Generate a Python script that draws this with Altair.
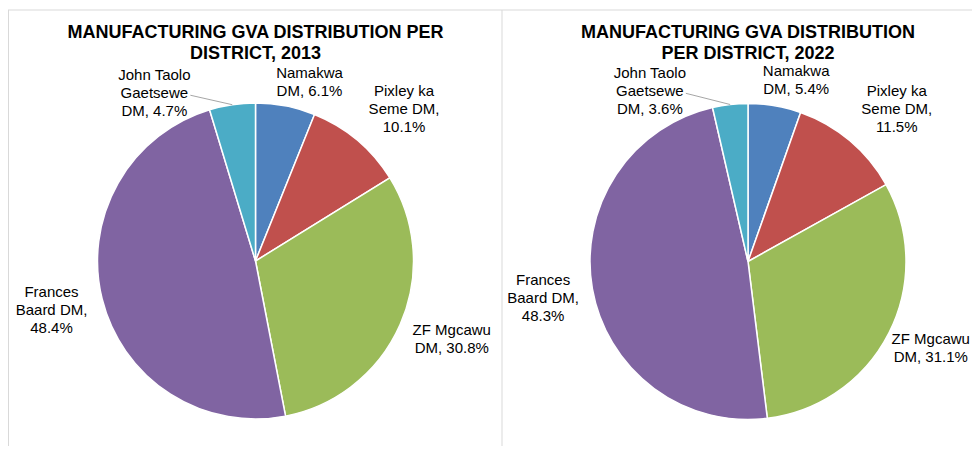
import math
import altair as alt
import pandas as pd

# ---------------- data ----------------
districts = ["Namakwa DM", "Pixley ka Seme DM", "ZF Mgcawu DM",
             "Frances Baard DM", "John Taolo Gaetsewe DM"]
label_templates = ["Namakwa\nDM, {}%", "Pixley ka\nSeme DM,\n{}%", "ZF Mgcawu\nDM, {}%",
                   "Frances\nBaard DM,\n{}%", "John Taolo\nGaetsewe\nDM, {}%"]
share_2013 = [6.1, 10.1, 30.8, 48.4, 4.7]
share_2022 = [5.4, 11.5, 31.1, 48.3, 3.6]
years = ["2013", "2022"]
titles = ["MANUFACTURING GVA DISTRIBUTION PER\nDISTRICT, 2013",
          "MANUFACTURING GVA DISTRIBUTION\nPER DISTRICT, 2022"]
colors = ["#4F81BD", "#C0504D", "#9BBB59", "#8064A2", "#4BACC6"]

# ---------------- layout ----------------
W, H = 964, 438
FONT = "Liberation Sans"
PIE_CENTERS = {"2013": (247.5, 253.0), "2022": (740.0, 253.5)}
PIE_R = 158
LABEL_R = 205
LABEL_NUDGE = {"2013": [(15, 22), (16.5, 4.5), (8.5, -5), (-5, -0.5), (-71, 34)],
               "2022": [(13.5, 20.5), (16.5, 4), (0, -6.5), (-3, 0), (-75, 32.5)]}
LEADER_FROM = (36, 3)   # offset from label centre where the leader starts
LEADER_FOR = 4          # index of the district whose label has a leader line
LABEL_SIZE, LABEL_LH = 15, 18
TITLE_SIZE, TITLE_LH = 18, 21.7
TITLE_TOP = 15.7
BORDER = "#d9d9d9"

series = {"2013": share_2013, "2022": share_2022}

label_rows, leader_rows, title_rows = [], [], []
for yi, yr in enumerate(years):
    vals = series[yr]
    total = sum(vals)
    cx, cy = PIE_CENTERS[yr]
    start = 0.0
    for i, v in enumerate(vals):
        mid = (start + v / 2) / total * 2 * math.pi
        start += v
        dx, dy = LABEL_NUDGE[yr][i]
        lx = cx + LABEL_R * math.sin(mid) + dx
        lyc = cy - LABEL_R * math.cos(mid) + dy
        text = label_templates[i].format(v)
        n = text.count("\n") + 1
        ytop = lyc - (n - 1) / 2 * LABEL_LH - 0.43 * LABEL_SIZE
        label_rows.append({"x": lx, "y": ytop, "text": text})
        if i == LEADER_FOR:
            leader_rows.append({"x": lx + LEADER_FROM[0], "y": lyc + LEADER_FROM[1],
                                "x2": cx + PIE_R * math.sin(mid),
                                "y2": cy - PIE_R * math.cos(mid)})
    title_rows.append({"x": PIE_CENTERS[yr][0], "y": TITLE_TOP, "text": titles[yi]})

labels_df = pd.DataFrame(label_rows)
leader_df = pd.DataFrame(leader_rows)
title_df = pd.DataFrame(title_rows)
dummy = pd.DataFrame({"d": [0]})


def pie(yr):
    df = pd.DataFrame({"district": districts, "share": series[yr], "idx": list(range(len(districts)))})
    cx, cy = PIE_CENTERS[yr]
    return alt.Chart(df).mark_arc(outerRadius=PIE_R, stroke="white", strokeWidth=1.5).encode(
        theta=alt.Theta("share:Q", stack=True),
        order=alt.Order("idx:Q"),
        color=alt.Color("district:N", scale=alt.Scale(domain=districts, range=colors), legend=None),
        x=alt.value(cx), y=alt.value(cy),
    )


border_top = alt.Chart(dummy).mark_rule(color=BORDER, strokeWidth=1).encode(
    x=alt.value(0), x2=alt.value(W), y=alt.value(2))
border_left = alt.Chart(dummy).mark_rule(color=BORDER, strokeWidth=1).encode(
    x=alt.value(0.5), y=alt.value(2), y2=alt.value(H))
border_mid = alt.Chart(dummy).mark_rule(color=BORDER, strokeWidth=1).encode(
    x=alt.value(494), y=alt.value(2), y2=alt.value(H))

leaders = alt.Chart(leader_df).mark_rule(color="#a6a6a6", strokeWidth=1).encode(
    x=alt.X("x:Q", scale=None, axis=None), y=alt.Y("y:Q", scale=None, axis=None),
    x2="x2:Q", y2="y2:Q")

labels = alt.Chart(labels_df).mark_text(
    font=FONT, fontSize=LABEL_SIZE, lineBreak="\n", lineHeight=LABEL_LH,
    align="center", baseline="top", color="#000000").encode(
    x=alt.X("x:Q", scale=None, axis=None), y=alt.Y("y:Q", scale=None, axis=None), text="text:N")

title_marks = alt.Chart(title_df).mark_text(
    font=FONT, fontSize=TITLE_SIZE, fontWeight="bold", lineBreak="\n", lineHeight=TITLE_LH,
    align="center", baseline="top", color="#000000").encode(
    x=alt.X("x:Q", scale=None, axis=None), y=alt.Y("y:Q", scale=None, axis=None), text="text:N")

chart = alt.layer(
    border_top, border_left, border_mid,
    pie("2013"), pie("2022"),
    leaders, labels, title_marks,
).resolve_scale(theta="independent").properties(
    width=W, height=H, padding=0, autosize=alt.AutoSizeParams(type="none"),
    background="white",
).configure_view(stroke=None)

chart.save("out.html", embed_options={"renderer": "svg", "actions": False})
